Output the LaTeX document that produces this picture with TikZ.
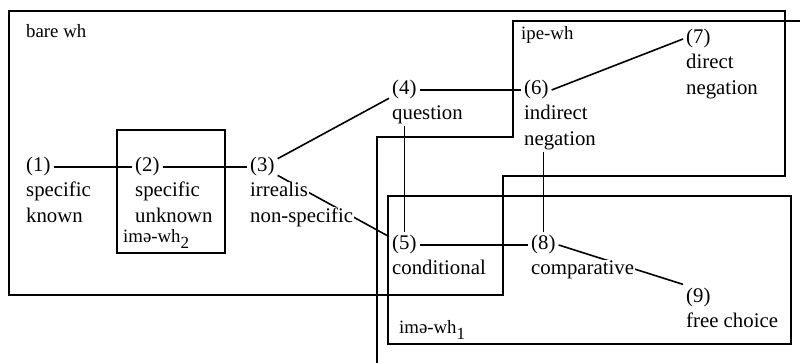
\documentclass[tikz,border=0pt]{standalone}
\usepackage{fontspec}
\setmainfont{Liberation Serif}
\usetikzlibrary{backgrounds}

\tikzset{
  num/.style={font=\fontsize{20.8}{26}\selectfont, inner sep=3pt, anchor=base west},
  lbl/.style={font=\fontsize{20.8}{26}\selectfont, inner sep=1pt, fill=white, anchor=base west},
  area/.style={font=\fontsize{18.8}{22}\selectfont, inner sep=0pt, anchor=base west},
  link/.style={line width=1.6pt},
  region/.style={line width=2.4pt},
}
\newcommand{\subnum}[1]{\raisebox{-6pt}{\fontsize{17}{17}\selectfont #1}}

\begin{document}
\begin{tikzpicture}[x=1pt,y=-1pt]
\useasboundingbox (0,0) rectangle (800,363);
\clip (0,0) rectangle (800,363);

% numbered uses of the wh-words
\node[num] (n1) at (23,172) {(1)};
\node[lbl] (l1a) at (25,197) {specific};
\node[lbl] (l1b) at (25,223) {known};

\node[num] (n2) at (132,172) {(2)};
\node[lbl] (l2a) at (134,197) {specific};
\node[lbl] (l2b) at (134,223) {unknown};

\node[num] (n3) at (247,172) {(3)};
\node[lbl] (l3a) at (249,197) {irrealis};
\node[lbl] (l3b) at (249,223) {non-specific};

\node[num] (n4) at (389,95) {(4)};
\node[lbl] (l4) at (391,120) {question};

\node[num] (n5) at (389,250) {(5)};
\node[lbl] (l5) at (391,275) {conditional};

\node[num] (n6) at (521,95) {(6)};
\node[lbl] (l6a) at (523,120) {indirect};
\node[lbl] (l6b) at (523,146) {negation};

\node[num] (n7) at (683,44) {(7)};
\node[lbl] (l7a) at (685,69) {direct};
\node[lbl] (l7b) at (685,95) {negation};

\node[num] (n8) at (528,250) {(8)};
\node[lbl] (l8) at (530,275) {comparative};

\node[num] (n9) at (683,302) {(9)};
\node[lbl] (l9) at (685,327) {free choice};

% region names
\node[area] (tbare) at (26,38) {bare wh};
\node[area] (tipe) at (521,40) {ipe-wh};
\node[area] (time2) at (123,243) {imə-wh\subnum{2}};
\node[area] (time1) at (399,333) {imə-wh\subnum{1}};

% connections between the uses
\begin{scope}[on background layer]
  \draw[link] (n1) -- (n2);
  \draw[link] (n2) -- (n3);
  \draw[link] (n3) -- (n4);
  \draw[link] (n3) -- (n5);
  \draw[link] (n4) -- (n6);
  \draw[link] (n6.east) -- (n7.west);
  \draw[link] (n5) -- (n8);
  \draw[link] (n5.north |- l4.south) -- (n5.north);
  \draw[link] (n8.north |- l6b.south) -- (n8.north);
  \draw[link] (n8.east) -- (n9.north west);
\end{scope}

% regions covered by each wh-series
\draw[region] (9,11) -- (785,11) -- (785,176) -- (503,176) -- (503,295) -- (9,295) -- cycle;
\draw[region] (820,21) -- (513,21) -- (513,137) -- (377,137) -- (377,380);
\draw[region] (388,196) rectangle (791,344);
\draw[region] (117,130) rectangle (225,253);
\end{tikzpicture}
\end{document}
